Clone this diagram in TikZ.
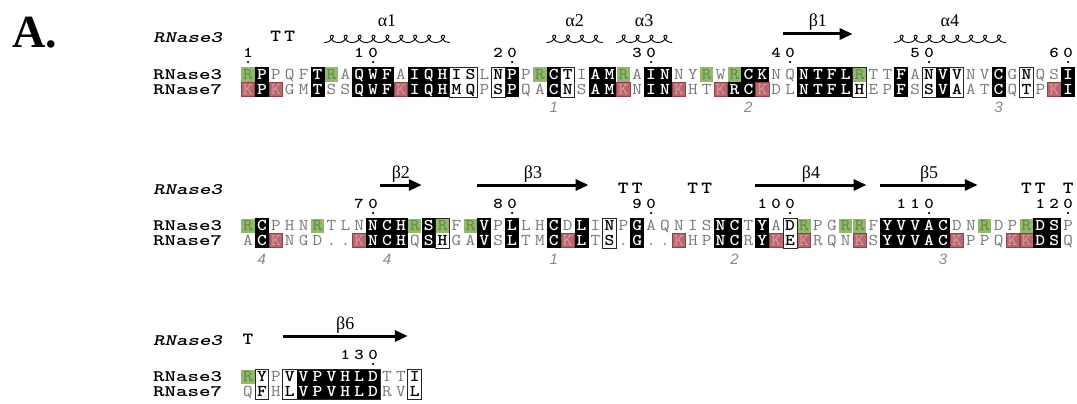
\documentclass[tikz,border=0pt]{standalone}
\usepackage{fontspec}
\usepackage{graphicx}
\usetikzlibrary{arrows.meta}
\newfontfamily\serifL{Liberation Serif}
\newfontfamily\sansL{Liberation Sans}
\definecolor{gbox}{RGB}{146,184,108}
\definecolor{gtxt}{RGB}{96,138,64}
\definecolor{rbox}{RGB}{184,104,110}
\definecolor{rtxt}{RGB}{225,155,160}
\definecolor{rline}{RGB}{140,66,74}
\definecolor{sgrey}{RGB}{120,120,120}
\definecolor{ngrey}{RGB}{135,135,135}
\newcount\colidx
\newcommand\sx[1]{\scalebox{1.13}[1]{#1}}
\newcommand\lx[1]{\scalebox{1.37}[1]{#1}}
\newcommand\tx[1]{\scalebox{1.2}[1]{#1}}
\tikzset{
  seqbase/.style={inner sep=0pt, anchor=base},
  seqB/.style={seqbase, text=white, font=\ttfamily\bfseries\fontsize{16.5}{16.5}\selectfont},
  seqF/.style={seqbase, text=black, font=\ttfamily\bfseries\fontsize{16.5}{16.5}\selectfont},
  seqn/.style={seqbase, text=sgrey, font=\ttfamily\fontsize{16.5}{16.5}\selectfont},
  seqG/.style={seqbase, text=gtxt, font=\ttfamily\fontsize{16.5}{16.5}\selectfont},
  seqR/.style={seqbase, text=rtxt, font=\ttfamily\fontsize{16.5}{16.5}\selectfont},
  labf/.style={inner sep=0pt, anchor=base west, font=\ttfamily\bfseries\fontsize{16}{16}\selectfont},
  labi/.style={inner sep=0pt, anchor=base west, font=\ttfamily\bfseries\slshape\fontsize{16}{16}\selectfont},
  tf/.style={inner sep=0pt, anchor=base, font=\ttfamily\bfseries\fontsize{17}{17}\selectfont},
  numf/.style={inner sep=0pt, anchor=base, font=\ttfamily\bfseries\fontsize{15}{15}\selectfont},
  grn/.style={inner sep=0pt, anchor=base, text=ngrey, font=\sansL\itshape\fontsize{15}{15}\selectfont},
  sslab/.style={inner sep=0pt, anchor=base, font=\serifL\fontsize{18}{18}\selectfont},
  frm/.style={draw=black!85, line width=0.8pt},
  strandarr/.style={line width=3pt, -{Triangle[length=13pt,width=11pt]}},
  helixline/.style={line width=0.9pt, line cap=round, line join=round},
  bigA/.style={inner sep=0pt, anchor=base west, font=\serifL\bfseries\fontsize{46}{46}\selectfont}
}
\def\docell#1#2#3{%
  \pgfmathsetmacro\cx{248+(\the\colidx-1)*13.9}%
  \if#3B\fill[black] (\cx-7.0,\blky+67) rectangle (\cx+7.0,\blky+97);\fi
  \if#1R\fill[gbox] (\cx-6.6,\blky+67.5) rectangle (\cx+6.6,\blky+81.8);%
    \node[seqG,name=a\blky-\the\colidx] at (\cx,\blky+79.6) {\sx{#1}};%
  \else\node[seq#3,name=a\blky-\the\colidx] at (\cx,\blky+79.6) {\sx{#1}};\fi
  \if#2K\filldraw[fill=rbox,draw=rline,line width=0.5pt] (\cx-6.6,\blky+82.4) rectangle (\cx+6.6,\blky+96.5);%
    \node[seqR,name=b\blky-\the\colidx] at (\cx,\blky+94.3) {\sx{#2}};%
  \else\node[seq#3,name=b\blky-\the\colidx] at (\cx,\blky+94.3) {\sx{#2}};\fi
}
\def\walk#1#2\qstop#3#4\qstop#5#6\qstop{%
  \global\advance\colidx by 1\relax
  \docell{#1}{#3}{#5}%
  \ifx\relax#2\relax\else\walk#2\qstop#4\qstop#6\qstop\fi}
\newcommand\seqblock[4]{\def\blky{#1}\global\colidx=0 \walk#2\qstop#3\qstop#4\qstop}
\newcommand\frcols[3]{\draw[frm] ({248+(#2-1)*13.9-6.95},#1+67) rectangle ({248+(#3-1)*13.9+6.95},#1+97);}
\newcommand\bondno[3]{\node[grn,name=g#1-#2] at ({248+(#2-1)*13.9},#1+113) {#3};}
\newcommand\turnT[2]{\node[tf,name=t#1-#2] at ({248+(#2-1)*13.9},#1+42) {\tx{T}};}
\newcommand\numlab[3]{%
  \foreach \d [count=\k] in {#3} {\xdef\nlen{\k}}%
  \foreach \d [count=\k] in {#3} {\node[numf,name=n#1-#2-\k] at ({248+(#2-\nlen+\k-1)*13.9},#1+57.5) {\tx{\d}};}%
  \fill ({248+(#2-1)*13.9},#1+62) circle[radius=1.2pt];}
\newcommand\rowlabs[1]{%
  \node[labi,name=ri-#1] at (153,#1+43) {\lx{RNase3}};
  \node[labf,name=r3-#1] at (153,#1+79.6) {\lx{RNase3}};
  \node[labf,name=r7-#1] at (153,#1+94.3) {\lx{RNase7}};}
% helix: one cursive loop per residue
\newcommand\helixel[4]{%
  \foreach \i in {#2,...,#3} {%
    \pgfmathsetmacro\hxx{248+(\i-1)*13.9-6.95}%
    \draw[helixline] (\hxx,#1+42.5) .. controls (\hxx+7,#1+42.5) and (\hxx+11.5,#1+35) .. (\hxx+7.5,#1+35)
      .. controls (\hxx+3.5,#1+35) and (\hxx+6.5,#1+42.5) .. (\hxx+13.9,#1+42.5);}%
  \node[sslab,name=hl#1-#2] at ({248+((#2+#3)/2-1)*13.9},#1+27) {#4};}
\newcommand\strand[4]{%
  \coordinate (s#1-#2a) at ({248+(#2-1)*13.9-6.95},#1+34);
  \coordinate (s#1-#2b) at ({248+(#3-1)*13.9+6.95},#1+34);
  \draw[strandarr] (s#1-#2a) -- (s#1-#2b);
  \node[sslab,name=sl#1-#2] at ({248+((#2+#3)/2-1)*13.9},#1+27) {#4};}
\begin{document}
\begin{tikzpicture}[x=1pt,y=-1pt]
\useasboundingbox (0,0) rectangle (1077,404);
\fill[white] (0,0) rectangle (1077,404);
\node[bigA,name=panel] at (12,48) {A.};
% ---------- block 1
\rowlabs{0}
\turnT{0}{3}\turnT{0}{4}
\helixel{0}{7}{15}{α1}
\helixel{0}{23}{26}{α2}
\helixel{0}{28}{31}{α3}
\strand{0}{40}{44}{β1}
\helixel{0}{48}{55}{α4}
\numlab{0}{1}{1}\numlab{0}{10}{1,0}\numlab{0}{20}{2,0}\numlab{0}{30}{3,0}
\numlab{0}{40}{4,0}\numlab{0}{50}{5,0}\numlab{0}{60}{6,0}
\seqblock{0}{RPPQFTRAQWFAIQHISLNPPRCTIAMRAINNYRWRCKNQNTFLRTTFANVVNVCGNQSI}%
{KPKGMTSSQWFKIQHMQPSPQACNSAMKNINKHTKRCKDLNTFLHEPFSSVAATCQTPKI}%
{nBnnnBnnBBBnBBBFFnFBnnBFnBBnnBBnnnnBBBnnBBBBFnnBnFBFnnBnFnnB}
\frcols{0}{16}{17}\frcols{0}{19}{19}\frcols{0}{24}{24}\frcols{0}{45}{45}
\frcols{0}{50}{52}\frcols{0}{57}{57}
\bondno{0}{23}{1}\bondno{0}{37}{2}\bondno{0}{55}{3}
% ---------- block 2
\rowlabs{151}
\strand{151}{11}{13}{β2}
\strand{151}{18}{25}{β3}
\turnT{151}{28}\turnT{151}{29}\turnT{151}{33}\turnT{151}{34}
\strand{151}{38}{45}{β4}
\strand{151}{47}{53}{β5}
\turnT{151}{57}\turnT{151}{58}\turnT{151}{60}
\numlab{151}{10}{7,0}\numlab{151}{20}{8,0}\numlab{151}{30}{9,0}
\numlab{151}{40}{1,0,0}\numlab{151}{50}{1,1,0}\numlab{151}{60}{1,2,0}
\seqblock{151}{RCPHNRTLNNCHRSRFRVPLLHCDLINPGAQNISNCTYADRPGRRFYVVACDNRDPRDSP}%
{ACKNGD..KNCHQSHGAVSLTMCKLTS.G..KHPNCRYKEKRQNKSYVVACKPPQKKDSQ}%
{nBnnnnnnnBBBnBFnnBnBnnBnBnFnBnnnnnBBnBnFnnnnnnBBBBBnnnnnnBBn}
\frcols{151}{15}{15}\frcols{151}{27}{27}\frcols{151}{40}{40}
\bondno{151}{2}{4}\bondno{151}{11}{4}\bondno{151}{23}{1}\bondno{151}{36}{2}\bondno{151}{51}{3}
% ---------- block 3
\rowlabs{302}
\turnT{302}{1}
\strand{302}{4}{12}{β6}
\numlab{302}{10}{1,3,0}
\seqblock{302}{RYPVVPVHLDTTI}{QFHLVPVHLDRVL}{nFnFBBBBBBnnF}
\frcols{302}{2}{2}\frcols{302}{4}{10}\frcols{302}{13}{13}
\end{tikzpicture}
\end{document}
